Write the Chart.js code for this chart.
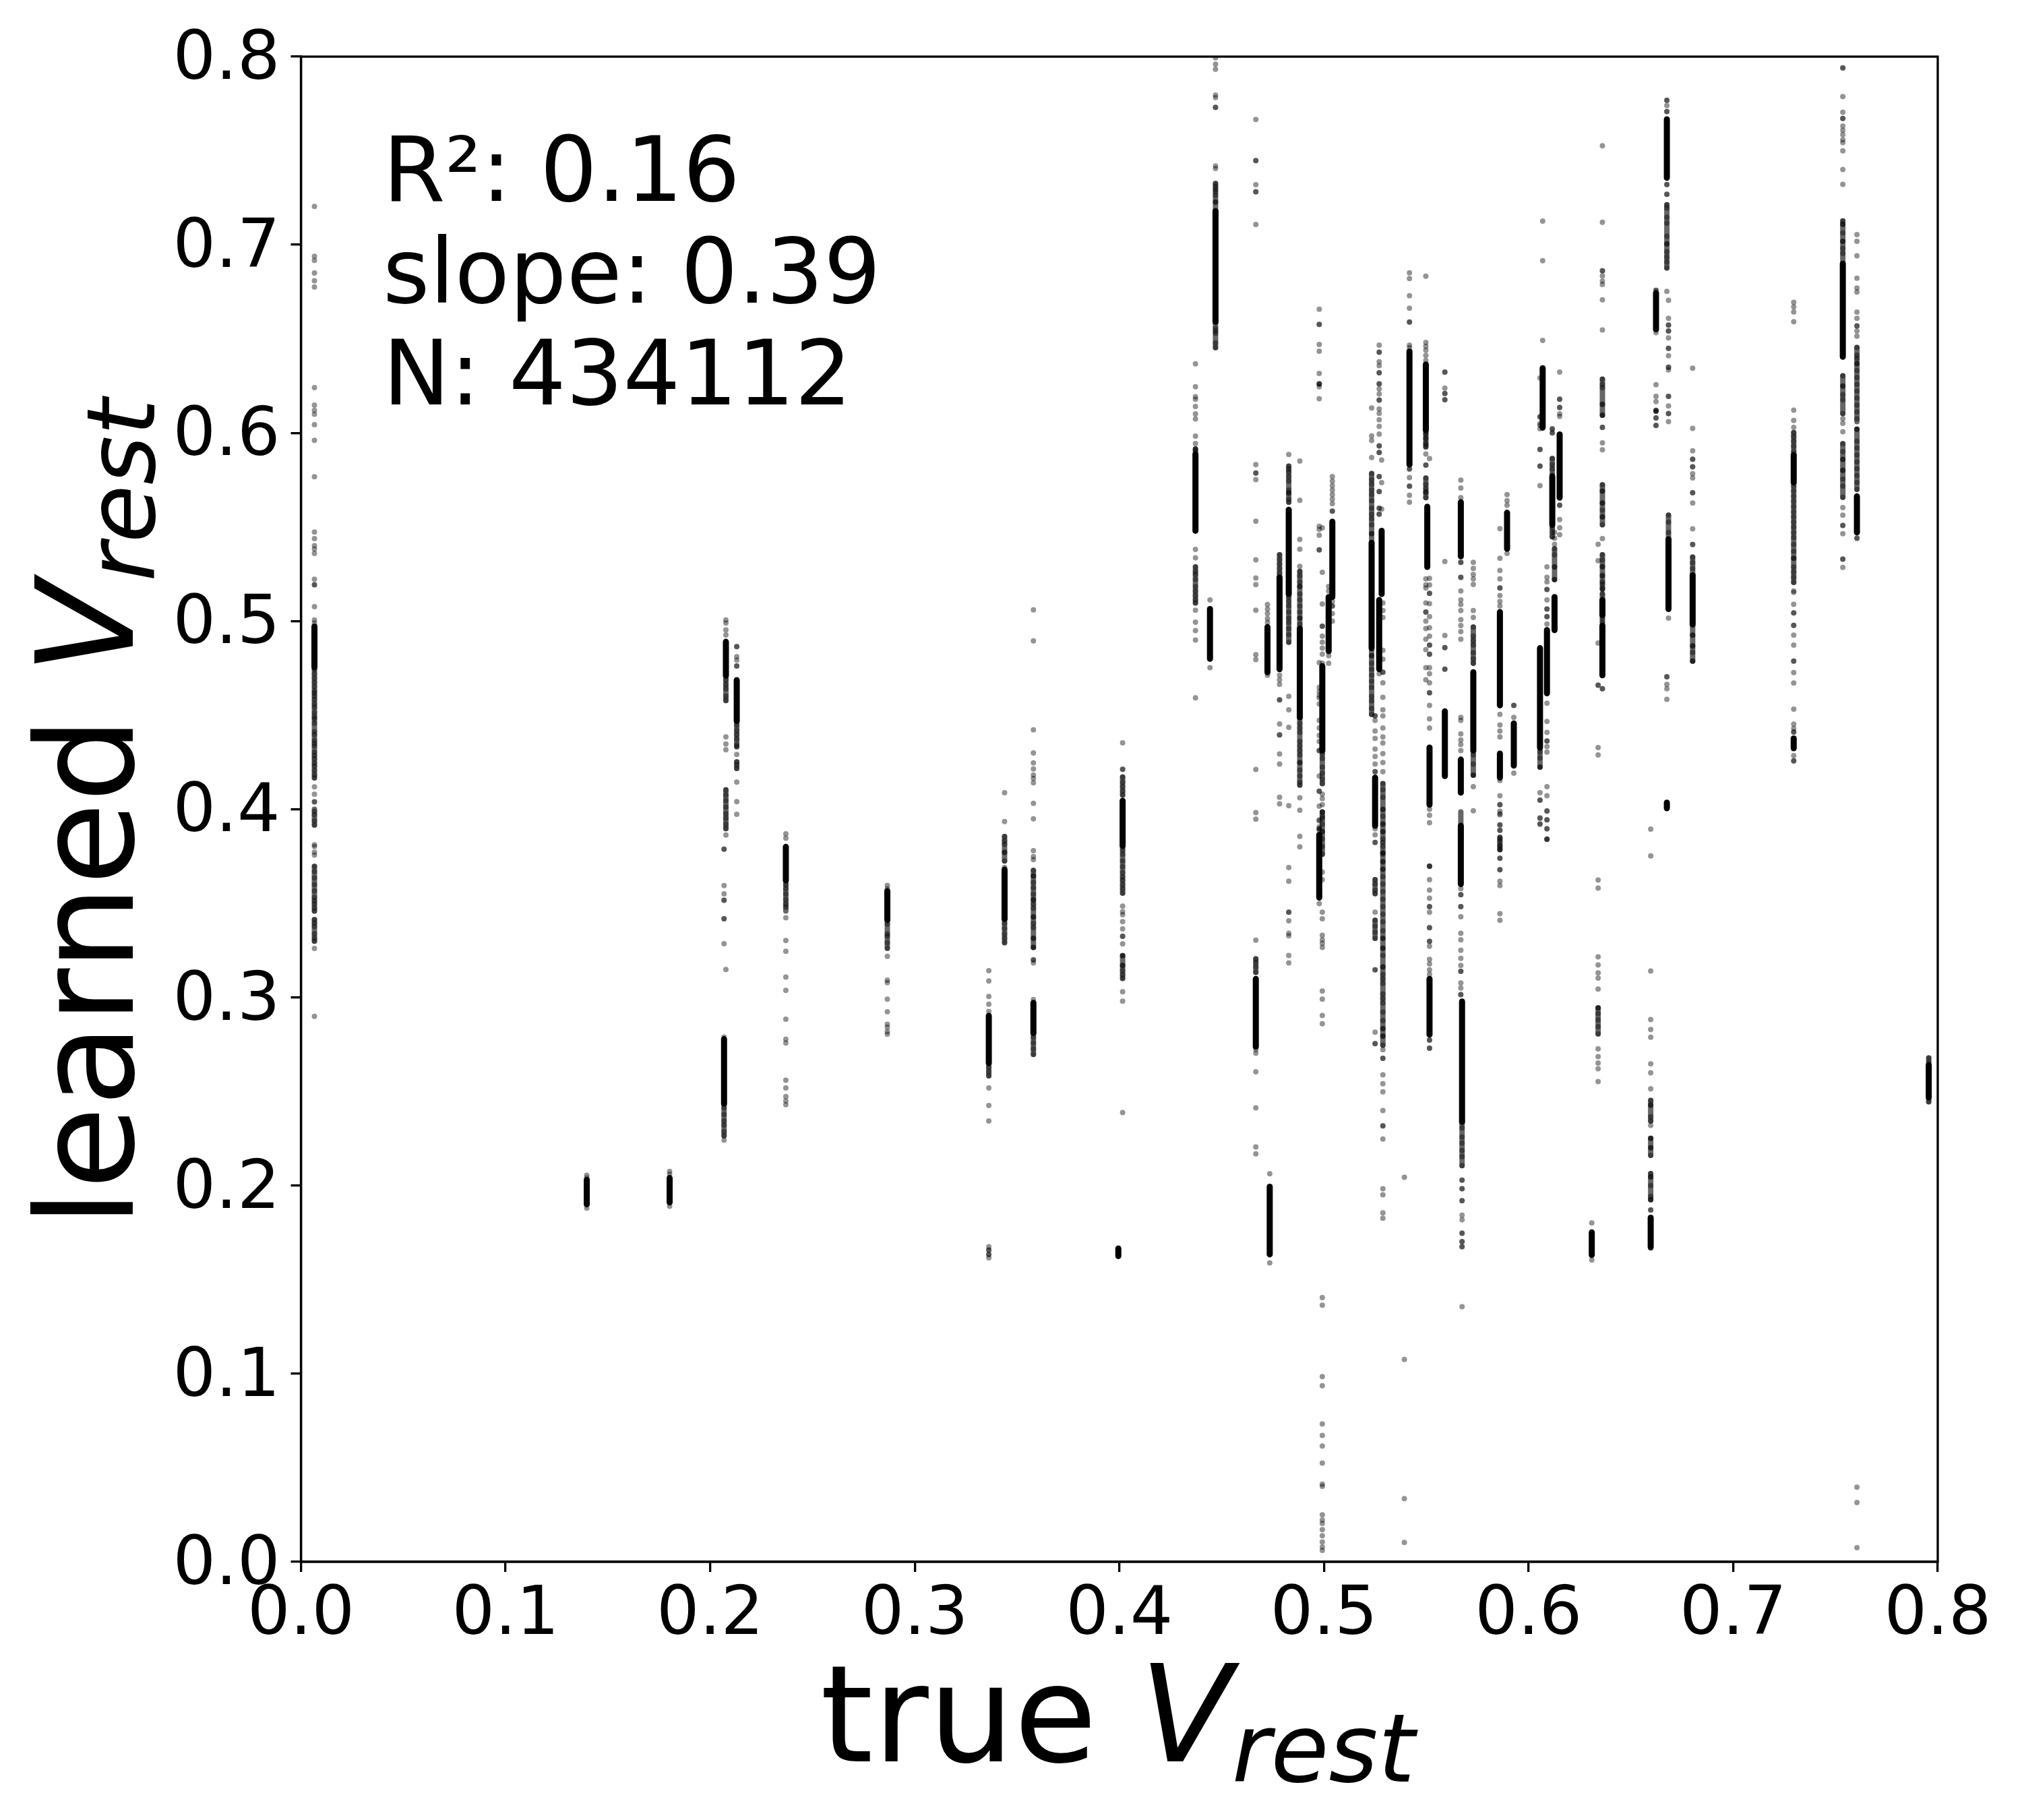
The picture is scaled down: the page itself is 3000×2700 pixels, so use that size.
<!DOCTYPE html>
<html>
<head>
<meta charset="utf-8">
<title>learned vs true Vrest</title>
<script src="https://cdn.jsdelivr.net/npm/chart.js@4"></script>
<style>
    html, body { margin: 0; padding: 0; background: #fff; }
    canvas { display: block; }
</style>
</head>
<body>
<canvas id="chart" width="3000" height="2700"></canvas>
<script>
// Axis
const tickValues = [0, 0.1, 0.2, 0.3, 0.4, 0.5, 0.6, 0.7, 0.8];
const statLines = ['R²: 0.16', 'slope: 0.39', 'N: 434112'];

// true Vrest of every column
const trueV = [
    0.0066, 0.1397, 0.1802, 0.2077, 0.2068, 0.2130, 0.2370, 0.2866, 0.3362, 0.3439,
    0.3580, 0.3995, 0.4016, 0.4372, 0.4470, 0.4443, 0.4667, 0.4724, 0.4735, 0.4783,
    0.4828, 0.4882, 0.4977, 0.4992, 0.5023, 0.5041, 0.5233, 0.5250, 0.5270, 0.5282,
    0.5288, 0.5393, 0.5418, 0.5498, 0.5505, 0.5516, 0.5591, 0.5669, 0.5675, 0.5730,
    0.5860, 0.5895, 0.5928, 0.6056, 0.6069, 0.6090, 0.6116, 0.6127, 0.6152, 0.6309,
    0.6340, 0.6361, 0.6597, 0.6623, 0.6676, 0.6684, 0.6802, 0.7296, 0.7536, 0.7605,
    0.7956
];

// single dots of each column, learned Vrest
const learnedDots = [
    [0.7204, 0.6939, 0.6917, 0.685, 0.6809, 0.6776, 0.6241, 0.6148, 0.612, 0.6099, 0.6044, 0.5961, 0.5767, 0.5473, 0.5438, 0.5401, 0.5383, 0.536, 0.5223, 0.5193, 0.5193, 0.5077, 0.5006, 0.499, 0.4743, 0.472, 0.4697, 0.4674, 0.4652, 0.4629, 0.4617, 0.4601, 0.4583, 0.456, 0.4542, 0.4514, 0.4492, 0.448, 0.4457, 0.4412, 0.4396, 0.4366, 0.435, 0.4336, 0.4304, 0.4286, 0.4268, 0.4245, 0.4229, 0.4206, 0.4183, 0.4167, 0.4119, 0.408, 0.4039, 0.4039, 0.3989, 0.397, 0.3939, 0.3916, 0.3811, 0.3802, 0.3772, 0.3756, 0.3696, 0.3669, 0.3635, 0.36, 0.3566, 0.3532, 0.3514, 0.3497, 0.3475, 0.3459, 0.3413, 0.3395, 0.3377, 0.3338, 0.3315, 0.3299, 0.326, 0.2899],
    [0.2055, 0.204, 0.188],
    [0.2075, 0.206, 0.189],
    [0.5006, 0.499, 0.4953, 0.4926, 0.4686, 0.4663, 0.464, 0.4601, 0.4578, 0.4384, 0.4347, 0.4316, 0.4103, 0.4076, 0.4046, 0.4012, 0.3977, 0.3952, 0.392, 0.3897, 0.3863, 0.3148],
    [0.3788, 0.3788, 0.3594, 0.355, 0.3516, 0.3516, 0.3418, 0.3418, 0.3285, 0.2789, 0.2412, 0.2378, 0.2344, 0.2321, 0.2287, 0.2264, 0.2241],
    [0.4864, 0.4864, 0.4811, 0.4793, 0.4761, 0.4761, 0.4446, 0.4418, 0.4396, 0.4373, 0.4343, 0.4332, 0.4291, 0.4252, 0.4236, 0.4217, 0.4144, 0.404, 0.3973],
    [0.3869, 0.3846, 0.3599, 0.3577, 0.3549, 0.3519, 0.3496, 0.348, 0.3423, 0.3302, 0.3245, 0.3108, 0.3037, 0.2884, 0.2777, 0.2758, 0.256, 0.2519, 0.2473, 0.245, 0.243],
    [0.3595, 0.3577, 0.3389, 0.3337, 0.3325, 0.3291, 0.3261, 0.3218, 0.3092, 0.3078, 0.2991, 0.2923, 0.2857, 0.2841, 0.2818, 0.2804],
    [0.3142, 0.3087, 0.3005, 0.2964, 0.2925, 0.2628, 0.2605, 0.2583, 0.2519, 0.2425, 0.2343, 0.1675, 0.1657, 0.1657, 0.1634, 0.1634, 0.1616],
    [0.4088, 0.3935, 0.3855, 0.3832, 0.3814, 0.3771, 0.3771, 0.3725, 0.3691, 0.3394, 0.3366, 0.3337, 0.3314, 0.3291],
    [0.506, 0.4895, 0.4422, 0.4299, 0.4246, 0.4214, 0.4182, 0.4164, 0.4141, 0.4031, 0.3949, 0.378, 0.3748, 0.3732, 0.3675, 0.3645, 0.3645, 0.3611, 0.3583, 0.3549, 0.3519, 0.3519, 0.3496, 0.3473, 0.3428, 0.3428, 0.3394, 0.3371, 0.3314, 0.3314, 0.3266, 0.3266, 0.3199, 0.3199, 0.3183, 0.2989, 0.2788, 0.2758, 0.2726, 0.2697],
    [],
    [0.4353, 0.4212, 0.4212, 0.4171, 0.4143, 0.412, 0.4097, 0.4075, 0.3782, 0.376, 0.3725, 0.3695, 0.3663, 0.364, 0.3622, 0.3599, 0.3577, 0.3554, 0.3485, 0.3455, 0.3439, 0.3403, 0.3364, 0.3325, 0.3325, 0.3284, 0.3222, 0.3222, 0.317, 0.317, 0.3142, 0.312, 0.3101, 0.303, 0.298, 0.2388],
    [0.6367, 0.6245, 0.6193, 0.6179, 0.6141, 0.6101, 0.6074, 0.5983, 0.5944, 0.5915, 0.591, 0.5895, 0.5381, 0.5336, 0.5288, 0.5264, 0.5248, 0.5221, 0.5184, 0.516, 0.5136, 0.5112, 0.5096, 0.5058, 0.4994, 0.4949, 0.4899, 0.4592],
    [0.7994, 0.796, 0.7933, 0.7796, 0.7782, 0.773, 0.773, 0.7419, 0.7405, 0.7326, 0.731, 0.7296, 0.7282, 0.7262, 0.7227, 0.7227, 0.6556, 0.6542, 0.6529, 0.6478, 0.6453],
    [0.5112, 0.4752],
    [0.7666, 0.7447, 0.7447, 0.7319, 0.7282, 0.7282, 0.7108, 0.5832, 0.5787, 0.5787, 0.5752, 0.5531, 0.5326, 0.5229, 0.5194, 0.5058, 0.4821, 0.4795, 0.4211, 0.3982, 0.3947, 0.3304, 0.3205, 0.3186, 0.3162, 0.3133, 0.2722, 0.2703, 0.2605, 0.2413, 0.2205, 0.2168],
    [0.5088, 0.5064, 0.504, 0.5013, 0.4992, 0.4712],
    [0.2063, 0.1589],
    [0.5352, 0.5328, 0.5304, 0.528, 0.5256, 0.4712, 0.4688, 0.4664, 0.4581, 0.4581, 0.4453, 0.4395, 0.4395, 0.4294, 0.424, 0.4064, 0.4029],
    [0.5885, 0.5824, 0.5808, 0.5792, 0.5768, 0.5744, 0.5696, 0.568, 0.568, 0.5648, 0.5632, 0.5128, 0.5104, 0.508, 0.5048, 0.5016, 0.4992, 0.496, 0.4928, 0.4888, 0.46, 0.4528, 0.4435, 0.4019, 0.369, 0.3618, 0.3453, 0.3453, 0.3407, 0.3341, 0.3327, 0.3223, 0.3183],
    [0.585, 0.5642, 0.5434, 0.5382, 0.5291, 0.5264, 0.524, 0.5208, 0.5184, 0.5184, 0.5144, 0.5112, 0.508, 0.5048, 0.5016, 0.5016, 0.4984, 0.4456, 0.4432, 0.4408, 0.436, 0.4336, 0.4312, 0.4288, 0.4248, 0.4248, 0.4208, 0.4176, 0.4144, 0.4128, 0.4061, 0.3995, 0.3856, 0.38],
    [0.6657, 0.6577, 0.6577, 0.647, 0.6434, 0.6316, 0.6261, 0.6261, 0.6261, 0.6245, 0.6182, 0.5504, 0.5488, 0.5456, 0.5378, 0.5378, 0.4779, 0.4648, 0.4625, 0.4605, 0.4592, 0.456, 0.4472, 0.4432, 0.4392, 0.436, 0.4312, 0.4312, 0.4176, 0.4096, 0.4096, 0.4016, 0.3944, 0.3896, 0.3896, 0.3938, 0.3906, 0.389, 0.3498],
    [0.5496, 0.5259, 0.5091, 0.4973, 0.4973, 0.492, 0.4888, 0.4856, 0.4824, 0.4776, 0.4296, 0.427, 0.4224, 0.4192, 0.416, 0.4136, 0.408, 0.4056, 0.4024, 0.3984, 0.3952, 0.392, 0.388, 0.3986, 0.3962, 0.3882, 0.3842, 0.3802, 0.3762, 0.3666, 0.3626, 0.3453, 0.3418, 0.333, 0.3306, 0.3287, 0.3266, 0.3034, 0.2991, 0.2904, 0.286, 0.1404, 0.1364, 0.0984, 0.0936, 0.0733, 0.0672, 0.0615, 0.0525, 0.0413, 0.0401, 0.025, 0.0222, 0.0204, 0.0171, 0.0139, 0.0106, 0.0079, 0.0061],
    [0.5184, 0.516, 0.4816, 0.4776],
    [0.5768, 0.5744, 0.572, 0.5696, 0.5672, 0.5648, 0.5624, 0.5584, 0.5584, 0.5104, 0.508, 0.508, 0.504, 0.5],
    [0.6133, 0.5984, 0.596, 0.5869, 0.5784, 0.5752, 0.5728, 0.5696, 0.5672, 0.564, 0.56, 0.5568, 0.5544, 0.5512, 0.5464, 0.5464, 0.4816, 0.4816, 0.4776, 0.4744, 0.4712, 0.468, 0.4648, 0.46, 0.4576, 0.4536, 0.4504],
    [0.4496, 0.4496, 0.4472, 0.4416, 0.4376, 0.432, 0.428, 0.424, 0.42, 0.42, 0.3896, 0.3864, 0.3824, 0.3824, 0.3626, 0.3602, 0.357, 0.3551, 0.3453, 0.341, 0.3378, 0.3346, 0.3314, 0.3146, 0.3146, 0.2815, 0.2754, 0.2754],
    [0.6467, 0.6429, 0.6429, 0.6378, 0.6357, 0.632, 0.632, 0.6261, 0.6261, 0.6234, 0.6207, 0.6175, 0.6175, 0.6127, 0.6104, 0.607, 0.6035, 0.5994, 0.5931, 0.5931, 0.5896, 0.5896, 0.5768, 0.5768, 0.5688, 0.5688, 0.56, 0.56, 0.5568, 0.5568, 0.472],
    [0.5856, 0.5736, 0.5595],
    [0.5096, 0.5056, 0.5019, 0.4845, 0.4797, 0.4728, 0.4728, 0.4672, 0.4595, 0.4528, 0.4496, 0.4432, 0.4384, 0.4352, 0.4296, 0.4248, 0.42, 0.4136, 0.4104, 0.4064, 0.3999, 0.3999, 0.392, 0.388, 0.3824, 0.3768, 0.3768, 0.372, 0.368, 0.3962, 0.3922, 0.3882, 0.3842, 0.3802, 0.3762, 0.3722, 0.3682, 0.3642, 0.3602, 0.3562, 0.3522, 0.3482, 0.3442, 0.3402, 0.3354, 0.3314, 0.3314, 0.3261, 0.3261, 0.3223, 0.3162, 0.3162, 0.3122, 0.3098, 0.3074, 0.3018, 0.2994, 0.297, 0.2922, 0.2877, 0.2834, 0.2834, 0.2794, 0.2794, 0.2746, 0.2722, 0.2676, 0.2676, 0.2588, 0.2541, 0.2498, 0.2399, 0.2317, 0.2317, 0.2247, 0.1983, 0.1951, 0.1855, 0.1826],
    [0.2044, 0.1076, 0.0336, 0.0103],
    [0.6851, 0.682, 0.6729, 0.6663, 0.6589, 0.6589, 0.6467, 0.6453, 0.5808, 0.5808, 0.5763, 0.5717, 0.5717, 0.5669, 0.5632],
    [0.6833, 0.6481, 0.646, 0.644, 0.6412, 0.6385, 0.6001, 0.5974, 0.5946, 0.5926, 0.6024, 0.5992, 0.5968, 0.5936, 0.5888, 0.5829, 0.5829, 0.576, 0.5728, 0.5704, 0.5685, 0.5685, 0.5656, 0.5224, 0.5192, 0.5176, 0.5096, 0.5048, 0.5048, 0.5, 0.496, 0.4904, 0.4848, 0.4752, 0.4688],
    [],
    [0.5864, 0.5227, 0.5192, 0.5147, 0.5147, 0.5093, 0.5024, 0.4965, 0.492, 0.4872, 0.4872, 0.4824, 0.4824, 0.4752, 0.472, 0.4672, 0.4619, 0.4619, 0.4552, 0.448, 0.4432, 0.4, 0.3968, 0.3928, 0.3696, 0.3696, 0.3698, 0.3626, 0.357, 0.3527, 0.3482, 0.3482, 0.3453, 0.337, 0.337, 0.3298, 0.3298, 0.3272, 0.3202, 0.3178, 0.3146, 0.3122, 0.2773, 0.2773, 0.273, 0.273],
    [0.6323, 0.6323, 0.6238, 0.621, 0.621, 0.6176, 0.6176, 0.5317, 0.4923, 0.4859, 0.4859, 0.4744, 0.4744],
    [0.5749, 0.5707, 0.5656, 0.5312, 0.5312, 0.5232, 0.5232, 0.516, 0.5112, 0.5088, 0.5056, 0.5008, 0.4976, 0.4944, 0.4904, 0.4488, 0.4472, 0.44, 0.4368, 0.4344, 0.4312, 0.3578, 0.3546, 0.3546, 0.3482, 0.3482, 0.3429, 0.3341, 0.3306, 0.325, 0.3207, 0.317, 0.3138, 0.3138, 0.3077, 0.305, 0.3015, 0.3015],
    [0.2306, 0.2258, 0.2226, 0.2186, 0.2154, 0.2106, 0.2029, 0.2029, 0.1983, 0.1983, 0.1919, 0.1919, 0.1842, 0.1818, 0.1746, 0.1747, 0.1703, 0.1701, 0.1675, 0.1675, 0.1356],
    [0.5312, 0.528, 0.5248, 0.5224, 0.5195, 0.5056, 0.5019, 0.4968, 0.492, 0.4896, 0.4872, 0.4832, 0.48, 0.4776, 0.4288, 0.424, 0.4181, 0.4181, 0.412, 0.3992],
    [0.5491, 0.5334, 0.5269, 0.5224, 0.5176, 0.5176, 0.5136, 0.5104, 0.508, 0.4504, 0.4448, 0.4416, 0.4384, 0.4152, 0.4072, 0.4024, 0.4024, 0.3976, 0.3917, 0.3917, 0.3888, 0.3888, 0.384, 0.3808, 0.3784, 0.3739, 0.3739, 0.3678, 0.3989, 0.397, 0.385, 0.3826, 0.3802, 0.3786, 0.3679, 0.3618, 0.3594, 0.3445, 0.341],
    [0.5672, 0.564, 0.5616, 0.536],
    [0.4552, 0.4552, 0.4488, 0.4192],
    [0.6292, 0.6086, 0.6049, 0.6022, 0.6085, 0.604, 0.5912, 0.5912, 0.5824, 0.5824, 0.572, 0.4304, 0.4272, 0.4224, 0.4224, 0.4088, 0.4048, 0.4048, 0.3952, 0.392, 0.3954, 0.3922],
    [0.7126, 0.6915, 0.6492, 0.6344, 0.6344],
    [0.5288, 0.5232, 0.5208, 0.5168, 0.5168, 0.5112, 0.5064, 0.5064, 0.5024, 0.5024, 0.4984, 0.4563, 0.4467, 0.4408, 0.4363, 0.4363, 0.4333, 0.4304, 0.412, 0.4072, 0.3992, 0.3944, 0.3944, 0.3896, 0.3896, 0.384, 0.384, 0.3989, 0.3842],
    [0.6022, 0.6001, 0.6021, 0.6, 0.5864, 0.5832, 0.5808, 0.5776, 0.5496, 0.5472, 0.5448],
    [0.5472, 0.544, 0.5408, 0.5384, 0.5352, 0.5288, 0.5288, 0.5221, 0.5221],
    [0.6323, 0.6179, 0.6179, 0.6134, 0.6136, 0.6101, 0.6088, 0.5616, 0.5616, 0.554, 0.5496, 0.5459],
    [0.1801, 0.1604],
    [0.5408, 0.5321, 0.4883, 0.4659, 0.4659, 0.4328, 0.4288, 0.3624, 0.3581, 0.3215, 0.3172, 0.313, 0.3103, 0.3044, 0.2944, 0.2944, 0.2914, 0.288, 0.2845, 0.2806, 0.2726, 0.2685, 0.2651, 0.2621, 0.2553],
    [0.7526, 0.712, 0.6862, 0.6862, 0.6835, 0.6807, 0.6789, 0.6708, 0.6547, 0.6286, 0.6258, 0.624, 0.6152, 0.6152, 0.6094, 0.6094, 0.603, 0.603, 0.5947, 0.591, 0.5724, 0.5691, 0.5691, 0.5627, 0.5627, 0.559, 0.5554, 0.5554, 0.5512, 0.5438, 0.5352, 0.5325, 0.5288, 0.5243, 0.5197, 0.5169, 0.5291, 0.524, 0.5208, 0.5176, 0.5144, 0.5016, 0.4992, 0.464, 0.464],
    [0.3894, 0.3752, 0.314, 0.2882, 0.2829, 0.2788, 0.2647, 0.2599, 0.2514, 0.2452, 0.2427, 0.2427, 0.2365, 0.2343, 0.232, 0.2251, 0.2251, 0.2201, 0.2201, 0.216, 0.2064, 0.2046, 0.2046, 0.2, 0.1943, 0.1925, 0.1925, 0.187, 0.187, 0.1667],
    [0.6758, 0.6758, 0.6533, 0.6256, 0.6194, 0.6167, 0.6115, 0.6115, 0.608, 0.6039, 0.612, 0.612, 0.608, 0.604],
    [0.7768, 0.7768, 0.774, 0.7708, 0.7708, 0.732, 0.732, 0.7268, 0.7268, 0.7213, 0.7195, 0.7146, 0.7115, 0.7045, 0.7005, 0.7005, 0.6963, 0.6935, 0.6908, 0.6877, 0.6752, 0.4704, 0.4704, 0.4664, 0.464, 0.4584],
    [0.6705, 0.6609, 0.6573, 0.6573, 0.6542, 0.6542, 0.6505, 0.645, 0.645, 0.641, 0.6349, 0.6349, 0.6335, 0.6194, 0.6194, 0.6143, 0.6103, 0.6103, 0.606, 0.5563, 0.5526, 0.5471, 0.5016],
    [0.6344, 0.6024, 0.5905, 0.586, 0.586, 0.582, 0.582, 0.5783, 0.5761, 0.5682, 0.5682, 0.5627, 0.549, 0.5407, 0.5407, 0.534, 0.531, 0.5279, 0.4925, 0.4925, 0.4868, 0.4868, 0.4833, 0.4787, 0.4787],
    [0.6694, 0.667, 0.6643, 0.6591, 0.6121, 0.6066, 0.603, 0.6002, 0.598, 0.5956, 0.5929, 0.5901, 0.5718, 0.5691, 0.5663, 0.5636, 0.5609, 0.5581, 0.5554, 0.5526, 0.5499, 0.5471, 0.5444, 0.5407, 0.5371, 0.5334, 0.5334, 0.5288, 0.5261, 0.5233, 0.5206, 0.516, 0.5153, 0.5089, 0.5043, 0.5043, 0.4977, 0.4977, 0.4925, 0.4872, 0.4787, 0.4787, 0.4726, 0.4671, 0.4532, 0.4452, 0.4429, 0.441, 0.441, 0.4285, 0.4257, 0.4257],
    [0.794, 0.794, 0.7788, 0.7704, 0.7671, 0.7671, 0.7631, 0.7609, 0.7585, 0.7558, 0.7543, 0.7499, 0.74, 0.7321, 0.7127, 0.7109, 0.7109, 0.7063, 0.7018, 0.7018, 0.6981, 0.6954, 0.6304, 0.6249, 0.6249, 0.6203, 0.6176, 0.6103, 0.6075, 0.6051, 0.6006, 0.5943, 0.5901, 0.5859, 0.5859, 0.5801, 0.5801, 0.5755, 0.5718, 0.5658, 0.5603, 0.5563, 0.5508, 0.5508, 0.5464, 0.5329, 0.5329, 0.5285],
    [0.7054, 0.7018, 0.6941, 0.6822, 0.677, 0.6749, 0.6642, 0.6609, 0.6569, 0.6569, 0.6542, 0.6514, 0.6454, 0.6414, 0.6396, 0.6368, 0.6368, 0.6331, 0.6295, 0.6258, 0.6222, 0.6185, 0.6148, 0.6112, 0.6075, 0.602, 0.602, 0.5956, 0.592, 0.5883, 0.5846, 0.581, 0.5773, 0.5737, 0.57, 0.544, 0.544, 0.0397, 0.0315, 0.0075],
    [0.2678, 0.2656, 0.2445]
];

// dense stretches of each column, drawn as a solid stroke [low, high]
const learnedRuns = [
    [[0.4754, 0.4971]],
    [[0.190, 0.203]],
    [[0.191, 0.204]],
    [[0.471, 0.489]],
    [[0.2435, 0.2778]],
    [[0.4469, 0.4686]],
    [[0.3622, 0.38]],
    [[0.3412, 0.3565]],
    [[0.2651, 0.2902]],
    [[0.3417, 0.3679]],
    [[0.2811, 0.2971]],
    [[0.1625, 0.1665]],
    [[0.3805, 0.4045]],
    [[0.548, 0.5885]],
    [[0.659, 0.7179]],
    [[0.48, 0.5064]],
    [[0.2738, 0.3098]],
    [[0.4728, 0.4968]],
    [[0.1634, 0.1994]],
    [[0.4744, 0.5232]],
    [[0.5144, 0.5592]],
    [[0.4488, 0.496]],
    [[0.353, 0.3864]],
    [[0.4312, 0.476]],
    [[0.484, 0.5128]],
    [[0.5128, 0.5528]],
    [[0.4856, 0.5416]],
    [[0.3912, 0.4168]],
    [[0.4744, 0.5112]],
    [[0.5144, 0.548]],
    [],
    [],
    [[0.5832, 0.6433]],
    [[0.6015, 0.6364]],
    [[0.5288, 0.5608]],
    [[0.4024, 0.4328], [0.2802, 0.3098]],
    [[0.4176, 0.452]],
    [[0.5344, 0.5632], [0.4088, 0.4264], [0.3602, 0.3912]],
    [[0.2338, 0.2978]],
    [[0.4312, 0.4728]],
    [[0.4552, 0.5048], [0.4168, 0.4296]],
    [[0.5384, 0.5576]],
    [[0.4232, 0.4456]],
    [[0.4328, 0.4856]],
    [[0.6028, 0.6344]],
    [[0.4616, 0.4952]],
    [[0.5512, 0.5768]],
    [[0.4952, 0.5128]],
    [[0.5656, 0.5992]],
    [[0.1631, 0.1751]],
    [],
    [[0.4712, 0.4976], [0.5032, 0.5112]],
    [[0.1673, 0.1829]],
    [[0.6551, 0.6743]],
    [[0.7356, 0.7667], [0.4005, 0.4035]],
    [[0.5064, 0.5435]],
    [[0.4982, 0.5243]],
    [[0.5737, 0.5883], [0.4324, 0.4376]],
    [[0.6405, 0.6899]],
    [[0.5471, 0.5663]],
    [[0.2468, 0.264]]
];

// stretches where dots overlap but do not go fully black: [column index, low, high]
const mottledRuns = [
    [0, 0.4167, 0.4743], [0, 0.3916, 0.4], [0, 0.3459, 0.3696], [0, 0.3299, 0.3413],
    [3, 0.4578, 0.471], [3, 0.3897, 0.4103], [4, 0.2264, 0.2435],
    [5, 0.4332, 0.4469], [5, 0.4217, 0.4252], [6, 0.3459, 0.3622],
    [7, 0.3261, 0.3412], [8, 0.2583, 0.2651], [9, 0.3291, 0.3417], [9, 0.3725, 0.3855],
    [10, 0.3266, 0.3675], [10, 0.2697, 0.2811],
    [12, 0.4075, 0.4171], [12, 0.3554, 0.3805], [12, 0.3101, 0.3222],
    [13, 0.5096, 0.5288], [13, 0.5885, 0.5915], [14, 0.6453, 0.659], [14, 0.7179, 0.7326],
    [16, 0.3133, 0.3205], [19, 0.5232, 0.5352], [20, 0.4888, 0.5144], [20, 0.5632, 0.5824],
    [21, 0.4128, 0.4488], [21, 0.496, 0.5264], [23, 0.376, 0.3986], [23, 0.4136, 0.4296],
    [26, 0.4504, 0.4856], [26, 0.5416, 0.5784], [27, 0.3551, 0.3626], [27, 0.3314, 0.341],
    [30, 0.2746, 0.4136], [33, 0.5926, 0.6015], [33, 0.5656, 0.576],
    [37, 0.3841, 0.3986], [38, 0.2106, 0.2338], [39, 0.4181, 0.4312], [39, 0.4776, 0.4968],
    [40, 0.3786, 0.385], [43, 0.4224, 0.4328], [46, 0.5448, 0.5512], [46, 0.5776, 0.5864],
    [47, 0.5221, 0.5384], [50, 0.2806, 0.2944],
    [51, 0.4992, 0.5144], [51, 0.5169, 0.5352], [51, 0.5512, 0.5724], [51, 0.6094, 0.6286],
    [52, 0.1925, 0.2064], [52, 0.216, 0.2251], [52, 0.2343, 0.2452], [54, 0.6877, 0.7213],
    [55, 0.5435, 0.5563], [56, 0.5243, 0.534], [56, 0.4787, 0.4982],
    [57, 0.5206, 0.5737], [57, 0.5883, 0.6002],
    [58, 0.5658, 0.5943], [58, 0.6103, 0.6304], [58, 0.6899, 0.7127],
    [59, 0.57, 0.602], [59, 0.606, 0.6454], [60, 0.2445, 0.2468], [60, 0.264, 0.2678]
];

const dotPoints = trueV.flatMap((x, i) => learnedDots[i].map(y => ({ x: x, y: y })));

function strokeDataset(x, low, high, color, width) {
    return {
        type: 'line',
        data: [{ x: x, y: low }, { x: x, y: high }],
        borderColor: color,
        borderWidth: width,
        borderCapStyle: 'round',
        pointRadius: 0
    };
}

const runDatasets = trueV.flatMap((x, i) =>
    learnedRuns[i].map(run => strokeDataset(x, run[0], run[1], '#000', 9)));
const mottledDatasets = mottledRuns.map(run =>
    strokeDataset(trueV[run[0]], run[1], run[2], 'rgba(0, 0, 0, 0.6)', 8));

// Frame, annotation and the mixed-style axis labels
const decorations = {
    id: 'decorations',
    beforeDraw(chart) {
        // y tick labels sit on their tick by digit height, not by em box
        chart.scales.y.getLabelItems().forEach(item => { item.textOffset = 7; });
    },
    afterDraw(chart) {
        const ctx = chart.ctx;
        const area = chart.chartArea;

        ctx.save();
        ctx.strokeStyle = '#000';
        ctx.lineWidth = 3.3;
        ctx.strokeRect(area.left, area.top, area.right - area.left, area.bottom - area.top);

        ctx.fillStyle = '#000';
        ctx.textBaseline = 'alphabetic';
        ctx.textAlign = 'left';
        ctx.font = '133.3px "DejaVu Sans"';
        statLines.forEach((line, i) => ctx.fillText(line, 568, 298 + i * 151));

        drawLabel(ctx, 'true ', 1217, 2613, 30);
        ctx.translate(197, 1820);
        ctx.rotate(-Math.PI / 2);
        drawLabel(ctx, 'learned ', 0, 0, 32);
        ctx.restore();
    }
};

function drawLabel(ctx, word, x, y, subDrop) {
    ctx.font = '200px "DejaVu Sans"';
    ctx.fillText(word, x, y);
    x += ctx.measureText(word).width;
    ctx.font = 'oblique 200px "DejaVu Sans"';
    ctx.fillText('V', x, y);
    x += ctx.measureText('V').width;
    ctx.font = 'oblique 140px "DejaVu Sans"';
    ctx.fillText('rest', x, y + subDrop);
}

const tickFont = { family: '"DejaVu Sans"', size: 100 };

new Chart(document.getElementById('chart'), {
    type: 'scatter',
    data: {
        datasets: [
            {
                data: dotPoints,
                backgroundColor: 'rgba(0, 0, 0, 0.42)',
                borderWidth: 0,
                pointRadius: 4,
                pointHoverRadius: 4
            },
            ...mottledDatasets,
            ...runDatasets
        ]
    },
    options: {
        responsive: false,
        animation: false,
        devicePixelRatio: 1,
        layout: { padding: { top: 84, right: 125 } },
        plugins: {
            legend: { display: false },
            tooltip: { enabled: false }
        },
        scales: {
            x: {
                type: 'linear',
                min: 0,
                max: 0.8,
                afterFit(scale) { scale.height = 383; },
                afterBuildTicks(scale) { scale.ticks = tickValues.map(value => ({ value: value })); },
                border: { color: '#000', width: 3.3 },
                grid: { drawOnChartArea: false, tickLength: 15, color: '#000', lineWidth: 3.3 },
                ticks: {
                    autoSkip: false,
                    maxRotation: 0,
                    color: '#000',
                    padding: 6,
                    font: tickFont,
                    callback: value => value.toFixed(1)
                }
            },
            y: {
                type: 'linear',
                min: 0,
                max: 0.8,
                afterFit(scale) { scale.width = 446.5; },
                afterBuildTicks(scale) { scale.ticks = tickValues.map(value => ({ value: value })); },
                border: { color: '#000', width: 3.3 },
                grid: { drawOnChartArea: false, tickLength: 15, color: '#000', lineWidth: 3.3 },
                ticks: {
                    autoSkip: false,
                    color: '#000',
                    padding: 16,
                    font: tickFont,
                    callback: value => value.toFixed(1)
                }
            }
        }
    },
    plugins: [decorations]
});
</script>
</body>
</html>
